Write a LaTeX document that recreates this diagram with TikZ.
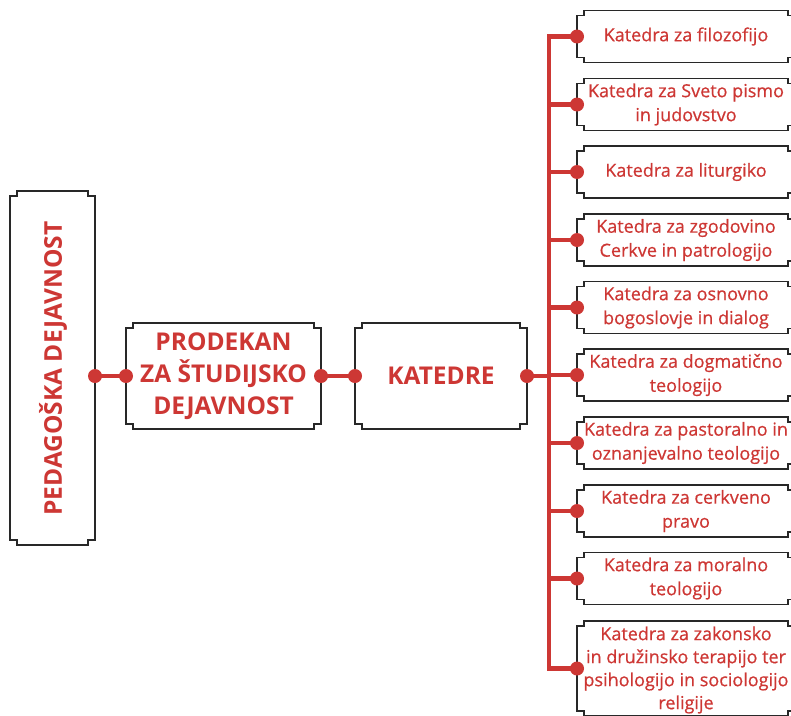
\documentclass[tikz,border=0pt]{standalone}
\usepackage{fontspec}
\setmainfont{Open Sans}
\newfontfamily\catfont[FakeBold=0.6]{Open Sans}
\usetikzlibrary{calc}
\definecolor{fred}{RGB}{205,55,52}
\definecolor{fline}{RGB}{40,40,40}
\tikzset{
  boxline/.style={draw=fline, line width=1.6pt, line join=miter},
  shapebox/.style={inner sep=0pt, outer sep=0pt},
  mainbox/.style={shapebox, text=fred, font=\fontsize{24.5}{32}\selectfont\bfseries, align=center},
  catbox/.style={shapebox, minimum width=218pt, minimum height=52pt, text=fred, font=\catfont\fontsize{18}{24}\selectfont, align=center},
  conn/.style={draw=fred, line width=4.5pt},
  dot/.style={fill=fred},
}
\newcommand{\notchbox}[1]{%
 \draw[boxline] ([xshift=7pt]#1.north west) -- ([xshift=-7pt]#1.north east) -- ([xshift=-7pt,yshift=-5pt]#1.north east) -- ([yshift=-5pt]#1.north east) -- ([yshift=5pt]#1.south east) -- ([xshift=-7pt,yshift=5pt]#1.south east) -- ([xshift=-7pt]#1.south east) -- ([xshift=7pt]#1.south west) -- ([xshift=7pt,yshift=5pt]#1.south west) -- ([yshift=5pt]#1.south west) -- ([yshift=-5pt]#1.north west) -- ([xshift=7pt,yshift=-5pt]#1.north west) -- cycle;}
\begin{document}
\begin{tikzpicture}[x=1pt,y=-1pt]
\useasboundingbox (0,0) rectangle (791,715);
\clip (0,0) rectangle (791,715);
% main boxes
\node[mainbox, minimum width=85pt, minimum height=354pt] (L) at (52.5,368) {};
\node[mainbox, rotate=90] (Lt) at (53,368.5) {PEDAGOŠKA DEJAVNOST};
\node[mainbox, minimum width=195pt, minimum height=106pt] (P) at (223.5,376) {PRODEKAN\\ZA ŠTUDIJSKO\\DEJAVNOST};
\node[mainbox, minimum width=172pt, minimum height=106pt] (K) at (441,376) {KATEDRE};
\foreach \n in {L,P,K} {\notchbox{\n}}
% category boxes
\node[catbox] (r1) at (686,36.5) {Katedra za filozofijo};
\node[catbox] (r2) at (686,104.5) {Katedra za Sveto pismo\\in judovstvo};
\node[catbox] (r3) at (686,172) {Katedra za liturgiko};
\node[catbox] (r4) at (686,240) {Katedra za zgodovino\\Cerkve in patrologijo};
\node[catbox] (r5) at (686,307.5) {Katedra za osnovno\\bogoslovje in dialog};
\node[catbox] (r6) at (686,375) {Katedra za dogmatično\\teologijo};
\node[catbox] (r7) at (686,443) {Katedra za pastoralno in\\oznanjevalno teologijo};
\node[catbox] (r8) at (686,511) {Katedra za cerkveno\\pravo};
\node[catbox] (r9) at (686,578.5) {Katedra za moralno\\teologijo};
\node[catbox, minimum height=95pt] (r10) at (686,668.5) {};
\node[catbox, minimum height=0pt, font=\catfont\fontsize{18}{23}\selectfont] (r10t) at (686,670) {Katedra za zakonsko\\in družinsko terapijo ter\\psihologijo in sociologijo\\religije};
\foreach \n in {r1,r2,r3,r4,r5,r6,r7,r8,r9,r10} {\notchbox{\n}}
% connectors
\coordinate (bar) at (549,0);
\draw[conn] (L.east |- P.west) -- (P.west);
\draw[conn] (P.east) -- (K.west);
\draw[conn] (K.east) -- (bar |- K.east);
\draw[conn, line join=miter] (r1.west) -| (bar |- r10.west) -- (r10.west);
\foreach \n in {r2,r3,r4,r5,r6,r7,r8,r9} {\draw[conn] (bar |- \n.west) -- (\n.west);}
% dots
\fill[dot] (L.east |- P.west) circle (7pt);
\foreach \a in {P.west,P.east,K.west,K.east} {\fill[dot] (\a) circle (7pt);}
\foreach \n in {r1,r2,r3,r4,r5,r6,r7,r8,r9,r10} {\fill[dot] (\n.west) circle (7pt);}
\end{tikzpicture}
\end{document}
